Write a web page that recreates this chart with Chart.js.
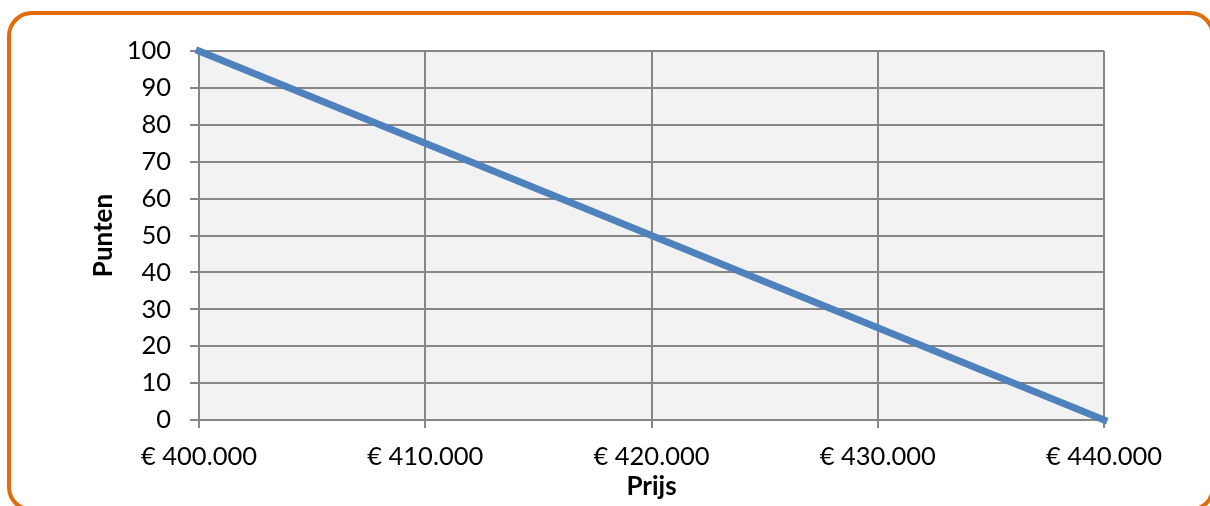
<!DOCTYPE html>
<html>
<head>
<meta charset="utf-8">
<script src="https://cdn.jsdelivr.net/npm/chart.js@4/dist/chart.umd.min.js"></script>
<style>
    html, body { margin: 0; padding: 0; background: #fff; overflow: hidden; }
    #frame {
        position: absolute; left: 7px; top: 11px; width: 1208px; height: 501px;
        box-sizing: border-box; border: 4px solid #e36c0a; border-radius: 25px;
    }
    #chart { position: absolute; left: 0; top: 0; }
</style>
</head>
<body>
<div id="frame"></div>
<canvas id="chart" width="1210" height="506"></canvas>
<script>
// prijs (euro) tegen punten
var prices = [400000, 410000, 420000, 430000, 440000];
var points = [100, 75, 50, 25, 0];
var xTicks = [400000, 410000, 420000, 430000, 440000];
var yTicks = [0, 10, 20, 30, 40, 50, 60, 70, 80, 90, 100];

var FONT = 'Lato';
var GRID = '#868686';

function euro(v) {
    return '\u20ac ' + String(v).replace(/\B(?=(\d{3})+(?!\d))/g, '.');
}

// grijze achtergrond van het plotgebied
const plotBg = {
    id: 'plotBg',
    beforeDraw: function (chart) {
        var a = chart.chartArea;
        var ctx = chart.ctx;
        ctx.save();
        ctx.fillStyle = '#f2f2f2';
        ctx.fillRect(a.left, a.top, a.right - a.left, a.bottom - a.top);
        ctx.restore();
    }
};

var ctx = document.getElementById('chart').getContext('2d');
var chart = new Chart(ctx, {
    type: 'line',
    data: {
        datasets: [{
            data: prices.map(function (p, i) { return { x: p, y: points[i] }; }),
            borderColor: '#4f81bd',
            borderWidth: 7,
            borderCapStyle: 'square',
            pointRadius: 0,
            tension: 0,
            clip: false
        }]
    },
    options: {
        responsive: false,
        animation: false,
        layout: { padding: { left: 80, right: 106, top: 51, bottom: 0 } },
        plugins: { legend: { display: false }, tooltip: { enabled: false } },
        scales: {
            x: {
                type: 'linear',
                min: 400000,
                max: 440000,
                afterBuildTicks: function (s) { s.ticks = xTicks.map(function (v) { return { value: v }; }); },
                afterFit: function (s) { s.height = 86; },
                ticks: {
                    callback: function (v) { return euro(v); },
                    color: '#000',
                    font: { family: FONT, size: 25.5 },
                    padding: 13,
                    maxRotation: 0
                },
                grid: { color: GRID, lineWidth: 2, tickLength: 8 },
                border: { color: GRID, width: 2 },
                title: {
                    display: true,
                    text: 'Prijs',
                    color: '#000',
                    font: { family: FONT, size: 26, weight: 'bold' },
                    padding: { top: 0, bottom: 4 }
                }
            },
            y: {
                min: 0,
                max: 100,
                afterBuildTicks: function (s) { s.ticks = yTicks.map(function (v) { return { value: v }; }); },
                afterFit: function (s) { s.width = 119; },
                ticks: {
                    color: '#000',
                    font: { family: FONT, size: 25.5 },
                    padding: 19
                },
                grid: { color: GRID, lineWidth: 2, tickLength: 9 },
                border: { color: GRID, width: 2 },
                title: {
                    display: true,
                    text: 'Punten',
                    color: '#000',
                    font: { family: FONT, size: 26, weight: 'bold' },
                    padding: { top: 8, bottom: 0 }
                }
            }
        }
    },
    plugins: [plotBg]
});
</script>
</body>
</html>
